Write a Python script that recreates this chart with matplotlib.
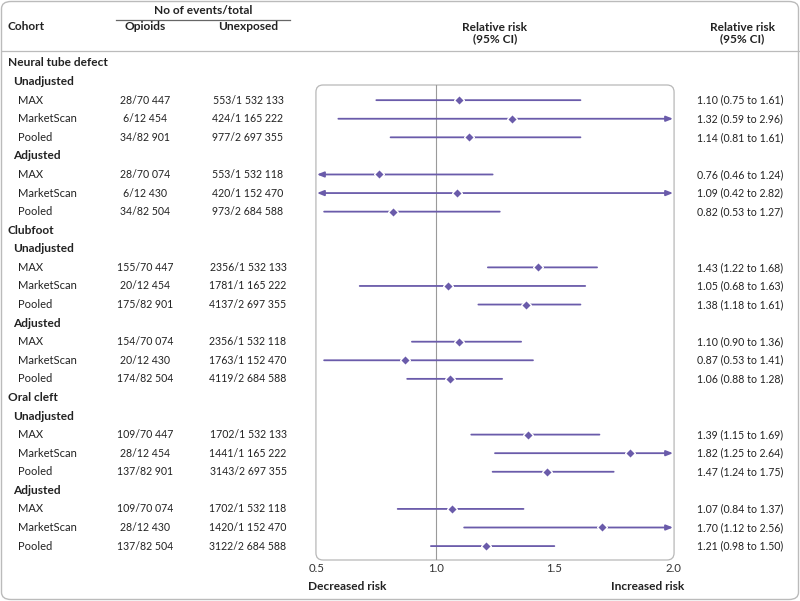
import matplotlib
matplotlib.use("Agg")
import matplotlib.pyplot as plt
from matplotlib.patches import FancyBboxPatch
from matplotlib.transforms import blended_transform_factory
from matplotlib.lines import Line2D

# --- data ---------------------------------------------------------------------
outcomes = ["Neural tube defect", "Clubfoot", "Oral cleft"]
models = ["Unadjusted", "Adjusted"]
cohorts = ["MAX", "MarketScan", "Pooled"]

opioid_counts = [
    "28/70 447", "6/12 454", "34/82 901",
    "28/70 074", "6/12 430", "34/82 504",
    "155/70 447", "20/12 454", "175/82 901",
    "154/70 074", "20/12 430", "174/82 504",
    "109/70 447", "28/12 454", "137/82 901",
    "109/70 074", "28/12 430", "137/82 504",
]
unexposed_counts = [
    "553/1 532 133", "424/1 165 222", "977/2 697 355",
    "553/1 532 118", "420/1 152 470", "973/2 684 588",
    "2356/1 532 133", "1781/1 165 222", "4137/2 697 355",
    "2356/1 532 118", "1763/1 152 470", "4119/2 684 588",
    "1702/1 532 133", "1441/1 165 222", "3143/2 697 355",
    "1702/1 532 118", "1420/1 152 470", "3122/2 684 588",
]
rr = [1.10, 1.32, 1.14, 0.76, 1.09, 0.82,
      1.43, 1.05, 1.38, 1.10, 0.87, 1.06,
      1.39, 1.82, 1.47, 1.07, 1.70, 1.21]
ci_lo = [0.75, 0.59, 0.81, 0.46, 0.42, 0.53,
         1.22, 0.68, 1.18, 0.90, 0.53, 0.88,
         1.15, 1.25, 1.24, 0.84, 1.12, 0.98]
ci_hi = [1.61, 2.96, 1.61, 1.24, 2.82, 1.27,
         1.68, 1.63, 1.61, 1.36, 1.41, 1.28,
         1.69, 2.64, 1.75, 1.37, 2.56, 1.50]
x_ticks = [0.5, 1.0, 1.5, 2.0]
X_MIN, X_MAX = 0.5, 2.0

PURPLE = "#6A5BAA"
TXT = "#222222"
GRID = "#B8B8B8"
BOLD_FS = 8.6
NUM_FS = 7.6

plt.rcParams.update({"font.family": ["Lato", "DejaVu Sans"], "font.size": 8})

W, H = 800, 601
fig = plt.figure(figsize=(W / 100, H / 100), dpi=100)


def fx(px):
    return px / W


def fy(py):
    return 1 - py / H


# outer frame
fig.patches.append(FancyBboxPatch((fx(1.5), fy(599.5)), fx(797), 1 - 3 / H,
                                  boxstyle="round,pad=0,rounding_size=0.012",
                                  transform=fig.transFigure, fc="none",
                                  ec="#BBBBBB", lw=1.0))

# forest axes: rows 0..26, row 0 at y=63px, step 18.58px
ROW0, STEP = 63.0, 18.58
top_px, bot_px = 85.0, 560.0
ax = fig.add_axes([fx(317), fy(bot_px), fx(673 - 317), (bot_px - top_px) / H])
ax.set_xlim(X_MIN, X_MAX)
ax.set_ylim((bot_px - ROW0) / STEP, (top_px - ROW0) / STEP)
for sp in ax.spines.values():
    sp.set_visible(False)
ax.set_yticks([])
ax.set_xticks(x_ticks, [f"{t:.1f}" for t in x_ticks])
ax.tick_params(axis="x", length=0, pad=2, labelsize=8.2, labelcolor="#333333")
ax.add_patch(FancyBboxPatch((-0.003, 0), 1.006, 1,
                            boxstyle="round,pad=0,rounding_size=0.02",
                            transform=ax.transAxes, fc="none", ec=GRID,
                            lw=0.9, clip_on=False, mutation_aspect=356 / 475))
ax.axvline(1.0, color="#9A9A9A", lw=0.8, zorder=1)

tr = blended_transform_factory(fig.transFigure, ax.transData)

# rows
row = 0
k = 0
for outcome in outcomes:
    ax.text(fx(8), row, outcome, transform=tr, fontweight="bold", color=TXT,
            va="center", ha="left", fontsize=BOLD_FS)
    row += 1
    for model in models:
        ax.text(fx(13), row, model, transform=tr, fontweight="bold", color=TXT,
                va="center", ha="left", fontsize=BOLD_FS)
        row += 1
        for cohort in cohorts:
            ax.text(fx(18), row, cohort, transform=tr, color=TXT,
                    va="center", ha="left", fontsize=8)
            ax.text(fx(145), row, opioid_counts[k], transform=tr, color=TXT,
                    va="center", ha="center", fontsize=NUM_FS)
            ax.text(fx(248), row, unexposed_counts[k], transform=tr, color=TXT,
                    va="center", ha="center", fontsize=NUM_FS)
            ax.text(fx(697), row, f"{rr[k]:.2f} ({ci_lo[k]:.2f} to {ci_hi[k]:.2f})",
                    transform=tr, color=TXT, va="center", ha="left",
                    fontsize=NUM_FS)
            lo, hi = ci_lo[k], ci_hi[k]
            left_arrow, right_arrow = lo < X_MIN, hi > X_MAX
            lo_c, hi_c = max(lo, X_MIN), min(hi, X_MAX)
            if left_arrow and right_arrow:
                style = "<|-|>"
            elif right_arrow:
                style = "-|>"
            elif left_arrow:
                style = "<|-"
            else:
                style = "-"
            if style != "-":
                style += ",head_length=0.5,head_width=0.2"
            ax.annotate("", xy=(hi_c, row), xytext=(lo_c, row),
                        arrowprops=dict(arrowstyle=style, color=PURPLE, lw=1.3,
                                        shrinkA=0, shrinkB=0), zorder=2)
            ax.plot([rr[k]], [row], marker="D", ms=5.5, color=PURPLE,
                    mec="white", mew=1.0, zorder=3)
            row += 1
            k += 1

# header
fig.text(fx(8), fy(27), "Cohort", fontweight="bold", color=TXT, va="center",
         fontsize=BOLD_FS)
fig.text(fx(203), fy(11), "No of events/total", fontweight="bold", color=TXT,
         va="center", ha="center", fontsize=BOLD_FS)
fig.add_artist(Line2D([fx(116), fx(290)], [fy(20), fy(20)], color="#666666",
                      lw=0.9))
fig.text(fx(145), fy(27), "Opioids", fontweight="bold", color=TXT, va="center",
         ha="center", fontsize=BOLD_FS)
fig.text(fx(248), fy(27), "Unexposed", fontweight="bold", color=TXT,
         va="center", ha="center", fontsize=BOLD_FS)
fig.text(fx(495), fy(33), "Relative risk\n(95% CI)", fontweight="bold",
         color=TXT, va="center", ha="center", linespacing=1.1, fontsize=BOLD_FS)
fig.text(fx(742), fy(33), "Relative risk\n(95% CI)", fontweight="bold",
         color=TXT, va="center", ha="center", linespacing=1.1, fontsize=BOLD_FS)
fig.add_artist(Line2D([fx(1.5), fx(798.5)], [fy(51), fy(51)], color="#BBBBBB",
                      lw=0.9))

fig.text(fx(308), fy(586), "Decreased risk", fontweight="bold", color=TXT,
         va="center", ha="left", fontsize=BOLD_FS)
fig.text(fx(684), fy(586), "Increased risk", fontweight="bold", color=TXT,
         va="center", ha="right", fontsize=BOLD_FS)

fig.savefig("out.png", dpi=100)
